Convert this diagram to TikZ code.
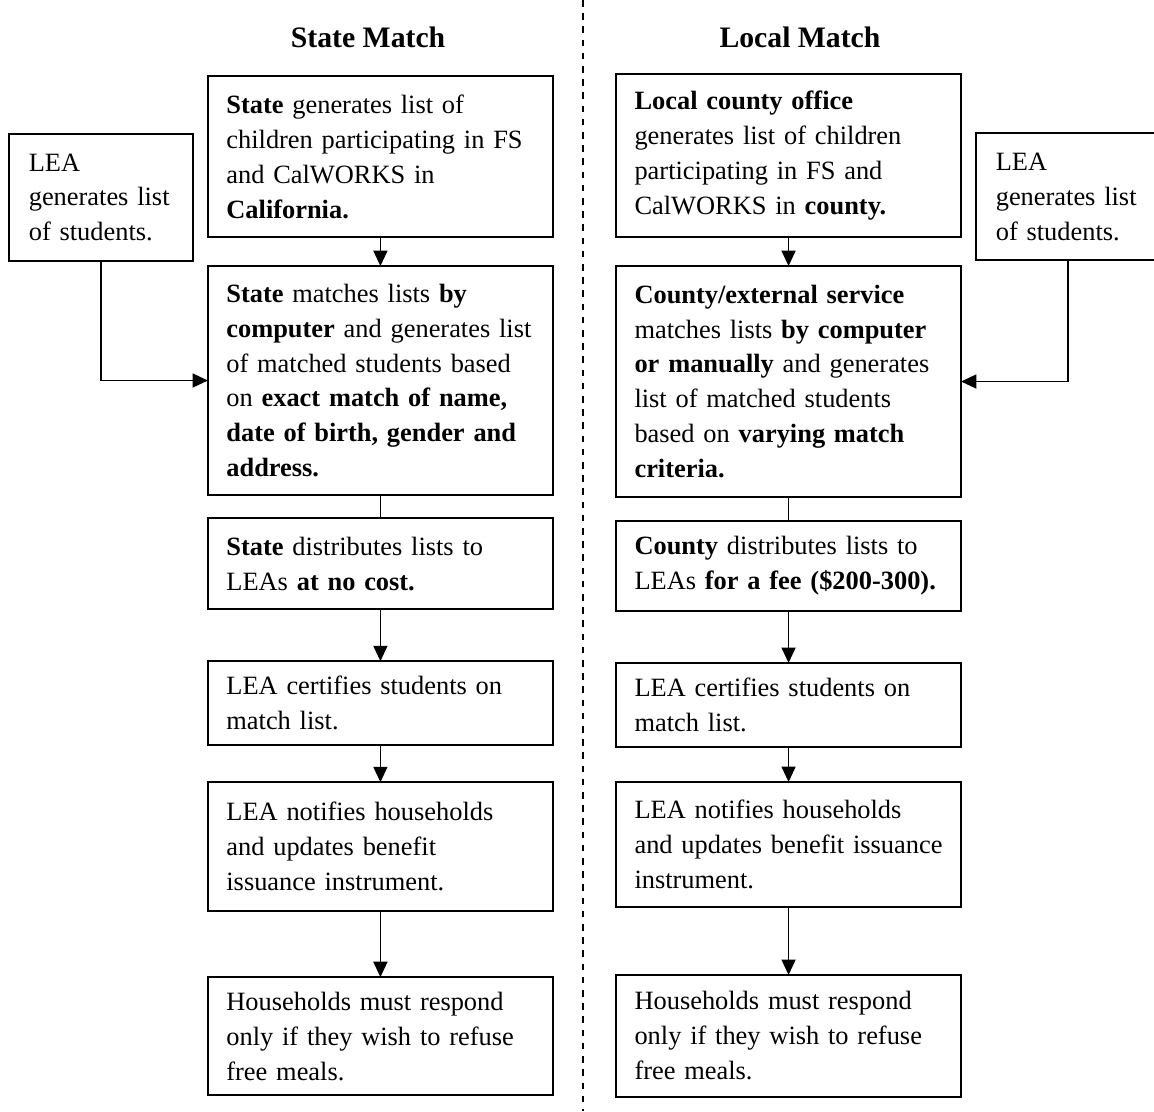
\documentclass[tikz,border=0pt]{standalone}
\usepackage{fontspec}
\setmainfont{Liberation Serif}
\usetikzlibrary{positioning,arrows.meta}

\begin{document}
\begin{tikzpicture} [auto, every node/.style={font=\fontsize{12}{15.9}\selectfont},
                    >={Triangle[length=7pt,width=6.4pt]},
                    laatikko/.style={draw,thick,align=left,text width=140pt,inner xsep=8.4pt,inner ysep=4pt,outer sep=0pt},
                    lea/.style={draw,thick,align=left,text width=65.6pt,inner xsep=9pt,inner ysep=4pt,outer sep=0pt,
                                minimum height=57.7pt,anchor=north west},
                    otsikko/.style={font=\fontsize{13.5}{16}\selectfont\bfseries,anchor=base}]

\useasboundingbox (0,0) rectangle (524.5pt,-505pt);

\node[otsikko] (t1) at (167.3pt,-21.4pt) {State Match};
\node[otsikko] (t2) at (363.6pt,-21.4pt) {Local Match};

% state match
\node[laatikko,minimum height=73.2pt,anchor=north west] (1) at (94.5pt,-34.5pt)
    {\textbf{State} generates list of\\children participating in FS\\and CalWORKS in\\\textbf{California.}};
\node[laatikko,minimum height=104.1pt] (2) [below=13.2pt of 1]
    {\textbf{State} matches lists \textbf{by}\\\textbf{computer} and generates list\\of matched students based\\on \textbf{exact match of name,}\\\textbf{date of birth, gender and}\\\textbf{address.}};
\node[laatikko,minimum height=41.4pt] (3) [below=10.5pt of 2]
    {\textbf{State} distributes lists to\\LEAs \textbf{at no cost.}};
\node[laatikko,minimum height=38.2pt] (4) [below=23.6pt of 3]
    {LEA certifies students on\\match list.};
\node[laatikko,minimum height=58.6pt] (5) [below=16.8pt of 4]
    {LEA notifies households\\and updates benefit\\issuance instrument.};
\node[laatikko,minimum height=53.6pt] (6) [below=30pt of 5]
    {Households must respond\\only if they wish to refuse\\free meals.};
\node[lea] (lea1) at (4.1pt,-60.9pt) {LEA\\generates list\\of students.};

% local match
\node[laatikko,minimum height=74.1pt,anchor=north west] (7) at (280pt,-33.6pt)
    {\textbf{Local county office}\\generates list of children\\participating in FS and\\CalWORKS in \textbf{county.}};
\node[laatikko,minimum height=105pt] (8) [below=13.2pt of 7]
    {\textbf{County/external service}\\matches lists \textbf{by computer}\\\textbf{or manually} and generates\\list of matched students\\based on \textbf{varying match}\\\textbf{criteria.}};
\node[laatikko,minimum height=40.9pt] (9) [below=10.9pt of 8]
    {\textbf{County} distributes lists to\\LEAs \textbf{for a fee (\$200-300).}};
\node[laatikko,minimum height=38.2pt] (10) [below=23.6pt of 9]
    {LEA certifies students on\\match list.};
\node[laatikko,minimum height=56.8pt] (11) [below=15.9pt of 10]
    {LEA notifies households\\and updates benefit issuance\\instrument.};
\node[laatikko,minimum height=55.5pt] (12) [below=30.9pt of 11]
    {Households must respond\\only if they wish to refuse\\free meals.};
\node[lea] (lea2) at (443.6pt,-60.5pt) {LEA\\generates list\\of students.};

\draw[dashed,semithick] (265pt,0pt) -- (265pt,-505pt);

 \path[line width=0.7pt]
    (1) edge[->] (2)
    (2) edge (3)
    (3) edge[->] (4)
    (4) edge[->] (5)
    (5) edge[->] (6)
    (7) edge[->] (8)
    (8) edge (9)
    (9) edge[->] (10)
    (10) edge[->] (11)
    (11) edge[->] (12);
\draw[line width=0.7pt,->] (lea1) |- (2);
\draw[line width=0.7pt,->] (lea2) |- (8);
\end{tikzpicture}
\end{document}
